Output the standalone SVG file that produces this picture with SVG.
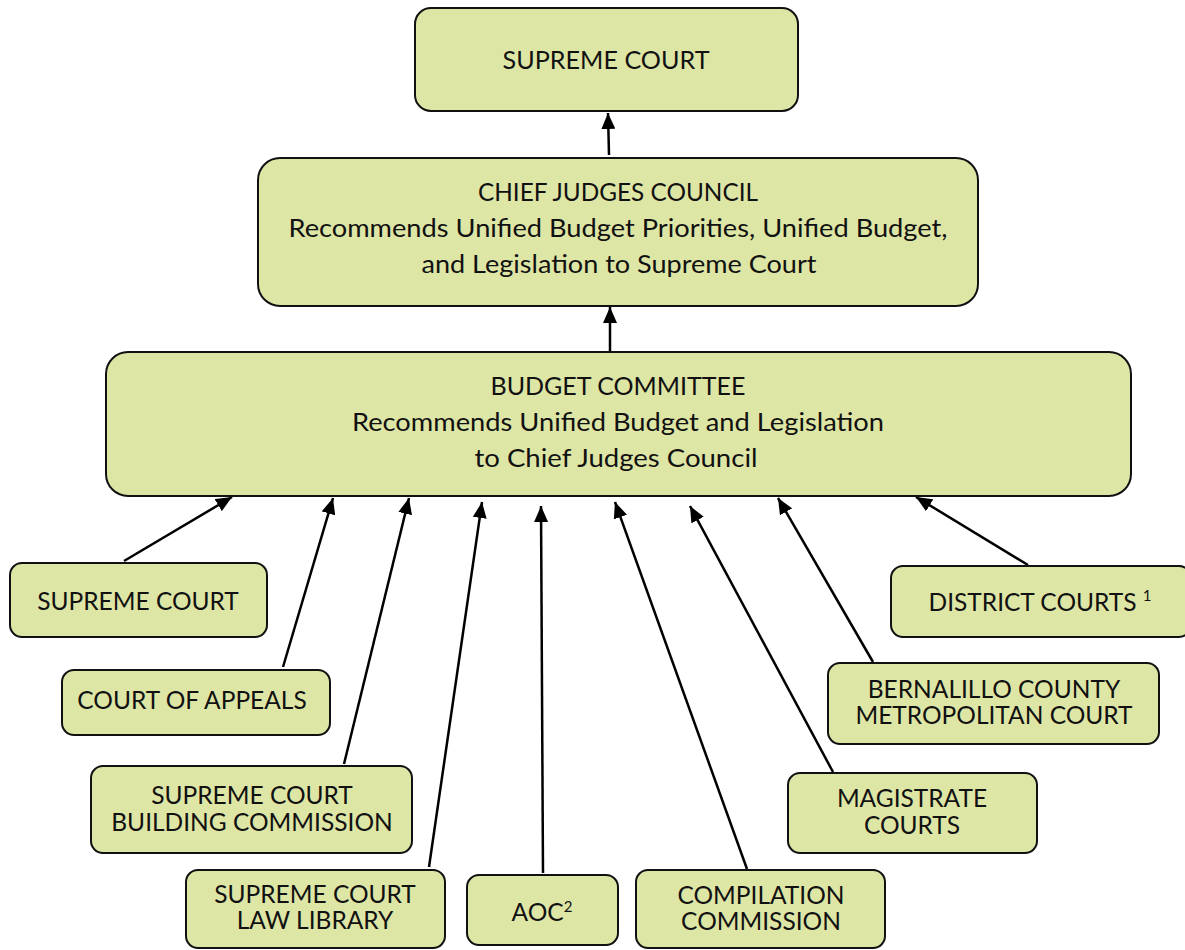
<svg xmlns="http://www.w3.org/2000/svg" width="1185" height="950" viewBox="0 0 1185 950">
<style>
.box{fill:#dee6a6;stroke:#111;stroke-width:2}
.t{font-family:Lato,"Liberation Sans",sans-serif;font-size:24.5px;fill:#111;text-anchor:middle}
.b{font-size:25px}
.c{stroke:#000;stroke-width:2.5;fill:none;marker-end:url(#ah)}
</style>
<defs>
<marker id="ah" markerUnits="userSpaceOnUse" viewBox="0 0 16 14" refX="16" refY="7" markerWidth="16" markerHeight="14" orient="auto">
<path d="M0,0 L16,7 L0,14 z" fill="#000"/>
</marker>
</defs>
<rect width="1185" height="950" fill="#fff"/>
<g id="connectors">
<line class="c" x1="609" y1="155" x2="608" y2="113"/>
<line class="c" x1="610" y1="352" x2="610" y2="307"/>
<line class="c" x1="124" y1="561" x2="232" y2="497"/>
<line class="c" x1="283" y1="667" x2="333" y2="498"/>
<line class="c" x1="344" y1="764" x2="409" y2="498"/>
<line class="c" x1="429" y1="867" x2="482" y2="502"/>
<line class="c" x1="543" y1="873" x2="541" y2="506"/>
<line class="c" x1="747" y1="869" x2="615" y2="502"/>
<line class="c" x1="833" y1="772" x2="690" y2="506"/>
<line class="c" x1="873" y1="662" x2="778" y2="498"/>
<line class="c" x1="1028" y1="565" x2="916" y2="497"/>
</g>
<g id="supreme-top">
<rect class="box" x="415" y="8" width="383" height="103" rx="16"/>
<text class="t b" x="606" y="69" textLength="207" lengthAdjust="spacingAndGlyphs">SUPREME COURT</text>
</g>
<g id="chief-judges">
<rect class="box" x="258" y="158" width="720" height="148" rx="22"/>
<text class="t b" x="618" y="201" textLength="280" lengthAdjust="spacingAndGlyphs">CHIEF JUDGES COUNCIL</text>
<text class="t b" x="618" y="237" textLength="659" lengthAdjust="spacingAndGlyphs">Recommends Unified Budget Priorities, Unified Budget,</text>
<text class="t b" x="619" y="273" textLength="395" lengthAdjust="spacingAndGlyphs">and Legislation to Supreme Court</text>
</g>
<g id="budget-committee">
<rect class="box" x="106" y="352" width="1025" height="144" rx="22"/>
<text class="t b" x="618" y="395" textLength="255" lengthAdjust="spacingAndGlyphs">BUDGET COMMITTEE</text>
<text class="t b" x="618" y="431" textLength="532" lengthAdjust="spacingAndGlyphs">Recommends Unified Budget and Legislation</text>
<text class="t b" x="616" y="467" textLength="283" lengthAdjust="spacingAndGlyphs">to Chief Judges Council</text>
</g>
<g id="supreme-small">
<rect class="box" x="10" y="563" width="257" height="74" rx="12"/>
<text class="t" x="138" y="610">SUPREME COURT</text>
</g>
<g id="court-appeals">
<rect class="box" x="62" y="670" width="268" height="65" rx="12"/>
<text class="t" x="192" y="709">COURT OF APPEALS</text>
</g>
<g id="building-commission">
<rect class="box" x="91" y="766" width="321" height="87" rx="12"/>
<text class="t" x="252" y="804">SUPREME COURT</text>
<text class="t" x="252" y="831">BUILDING COMMISSION</text>
</g>
<g id="law-library">
<rect class="box" x="186" y="870" width="259" height="78" rx="12"/>
<text class="t" x="315" y="903">SUPREME COURT</text>
<text class="t" x="315" y="929">LAW LIBRARY</text>
</g>
<g id="aoc">
<rect class="box" x="467" y="875" width="151" height="70" rx="12"/>
<text class="t" x="542" y="921">AOC<tspan dy="-9" style="font-size:15px">2</tspan></text>
</g>
<g id="compilation">
<rect class="box" x="636" y="870" width="249" height="78" rx="12"/>
<text class="t" x="761" y="904">COMPILATION</text>
<text class="t" x="761" y="930">COMMISSION</text>
</g>
<g id="magistrate">
<rect class="box" x="788" y="773" width="249" height="80" rx="12"/>
<text class="t" x="912" y="807">MAGISTRATE</text>
<text class="t" x="912" y="834">COURTS</text>
</g>
<g id="bernalillo">
<rect class="box" x="828" y="663" width="331" height="81" rx="12"/>
<text class="t" x="994" y="698">BERNALILLO COUNTY</text>
<text class="t" x="994" y="724">METROPOLITAN COURT</text>
</g>
<g id="district">
<rect class="box" x="891" y="566" width="300" height="71" rx="12"/>
<text class="t" x="1040" y="611">DISTRICT COURTS <tspan dy="-10" style="font-size:15px">1</tspan></text>
</g>
</svg>
